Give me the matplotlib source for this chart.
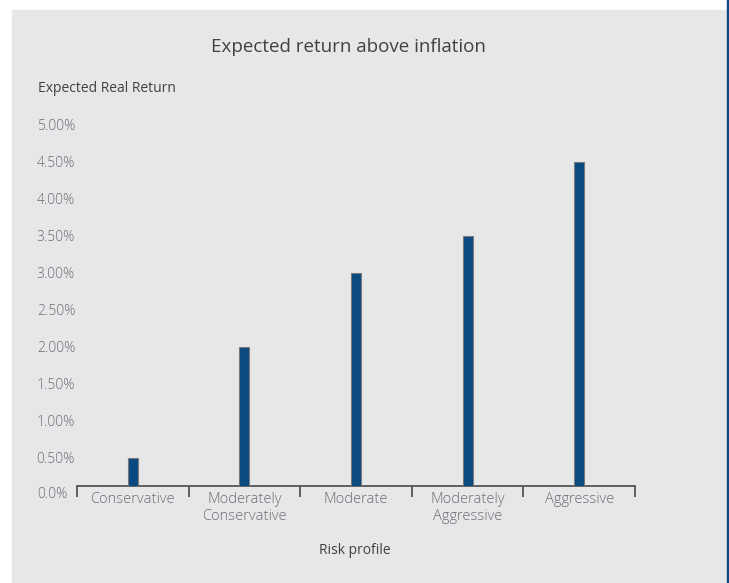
import matplotlib as mpl
mpl.use('Agg')

import matplotlib.pyplot as plt
from matplotlib.patches import Rectangle
from matplotlib.transforms import blended_transform_factory

# risk profiles and expected real return (percent)
profiles = ['Conservative', 'Moderately\nConservative', 'Moderate',
            'Moderately\nAggressive', 'Aggressive']
returns = [0.5, 2.0, 3.0, 3.5, 4.5]
yticks = [0.5, 1.0, 1.5, 2.0, 2.5, 3.0, 3.5, 4.0, 4.5, 5.0]
ytick_labels = ['0.50%', '1.00%', '1.50%', '2.00%', '2.50%',
                '3.00%', '3.50%', '4.00%', '4.50%', '5.00%']

plt.rcParams['font.family'] = ['Open Sans', 'DejaVu Sans']

W, H = 729, 583
fig = plt.figure(figsize=(W / 100, H / 100), dpi=100)
fig.patch.set_facecolor('white')

# grey panel and blue rule on the right
fig.patches.append(Rectangle((12 / W, 0), (727 - 12) / W, (H - 10) / H,
                             transform=fig.transFigure, color='#e6e7e8', zorder=-2))
fig.patches.append(Rectangle((727 / W, 0), 2 / W, 1,
                             transform=fig.transFigure, color='#0d4a85', zorder=-1))

ax = fig.add_axes([77 / W, 97 / H, 558 / W, 361 / H])
ax.set_facecolor('none')

x = range(len(profiles))
ax.bar(x, returns, width=0.09, color='#0a4a80', edgecolor='#7a7a7a',
       linewidth=0.8, zorder=3)

ax.set_xlim(-0.5, len(profiles) - 0.5)
ax.set_ylim(0.12, 5.0)

for s in ['top', 'right', 'left']:
    ax.spines[s].set_visible(False)
ax.spines['bottom'].set_color('#555555')
ax.spines['bottom'].set_linewidth(1.3)

# category labels, boundary ticks
ax.set_xticks(list(x))
ax.set_xticklabels(profiles, fontsize=10.5, color='#6d6e71', linespacing=1.2,
                   fontweight='light')
ax.tick_params(axis='x', which='major', length=0, pad=4)
ax.set_xticks([i - 0.5 for i in range(len(profiles) + 1)], minor=True)
ax.tick_params(axis='x', which='minor', length=8, width=1.3, color='#555555',
               direction='out')

ax.set_yticks(yticks)
ax.set_yticklabels(ytick_labels, fontsize=10, color='#6d6e71', fontweight='light')
ax.tick_params(axis='y', length=0, pad=29)
for lab in ax.get_yticklabels():
    lab.set_horizontalalignment('left')
    lab.set_verticalalignment('center_baseline')
ax.text(37 / W, 0, '0.0%', transform=blended_transform_factory(fig.transFigure, ax.transData),
        fontsize=10, color='#6d6e71', fontweight='light', ha='left', va='center',
        clip_on=False)

fig.text(348 / W, 1 - 47 / H, 'Expected return above inflation',
         ha='center', va='center', fontsize=13.5, color='#414042')
fig.text(38 / W, 1 - 88 / H, 'Expected Real Return',
         ha='left', va='center', fontsize=10, color='#414042')
fig.text(355 / W, 1 - 551 / H, 'Risk profile',
         ha='center', va='center', fontsize=10, color='#414042')

plt.savefig('out.png', dpi=100)
